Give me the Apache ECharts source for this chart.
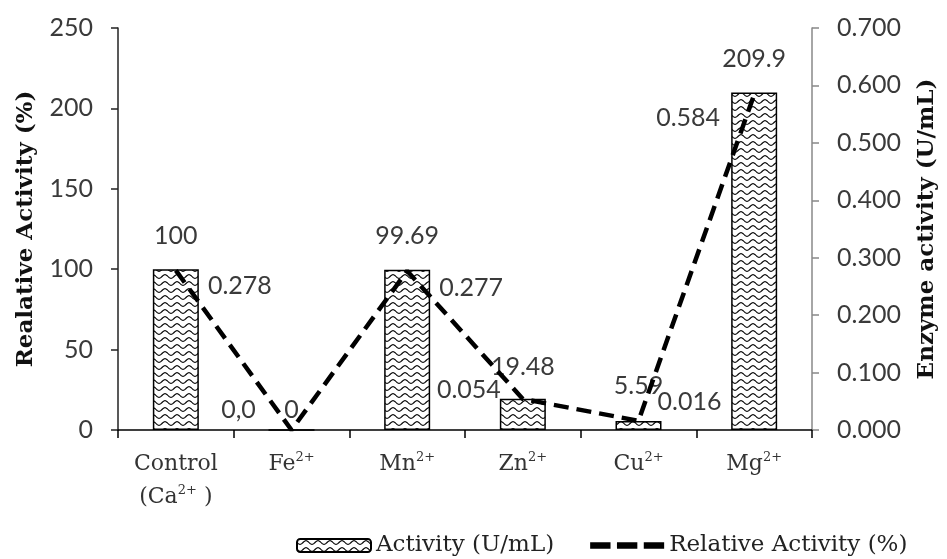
<!DOCTYPE html>
<html>
<head>
<meta charset="utf-8">
<script src="https://cdn.jsdelivr.net/npm/echarts@6/dist/echarts.min.js"></script>
<style>html,body{margin:0;padding:0;background:#fff}#c{width:947px;height:559px}</style>
</head>
<body>
<div id="c"></div>
<script>
const categories = ['Control\n(Ca{sup|2+} )', 'Fe{sup|2+}', 'Mn{sup|2+}', 'Zn{sup|2+}', 'Cu{sup|2+}', 'Mg{sup|2+}'];
const barValues = [100, 0, 99.69, 19.48, 5.59, 209.9];
const barLabels = ['100', '0', '99.69', '19.48', '5.59', '209.9'];
const lineValues = [0.278, 0, 0.277, 0.054, 0.016, 0.584];
const lineLabels = ['0.278', '0,0', '0.277', '0.054', '0.016', '0.584'];
const leftTicks = [0, 50, 100, 150, 200, 250];
const rightTicks = [0, 0.1, 0.2, 0.3, 0.4, 0.5, 0.6, 0.7];

// wavy pattern tile
const tile = document.createElement('canvas');
tile.width = 12; tile.height = 7;
const tc = tile.getContext('2d');
tc.fillStyle = '#fff'; tc.fillRect(0, 0, 12, 7);
tc.strokeStyle = '#000'; tc.lineWidth = 1.2;
tc.beginPath();
for (let x = 0; x <= 12; x += 0.5) {
  const y = 3.5 + 1.8 * Math.sin(x / 12 * Math.PI * 2);
  if (x === 0) tc.moveTo(x, y); else tc.lineTo(x, y);
}
tc.stroke();
const pattern = { image: tile, repeat: 'repeat' };

const lineOffsets = [[64, 16], [-53, -20], [64, 17], [-54, -9], [51, -19], [-66, 23]];
const barDist = [21, 7, 21, 19, 23, 21];

const tickFont = { fontFamily: 'Lato', fontSize: 25, color: '#3a3a3a' };
const serif = 'DejaVu Serif';

const chart = echarts.init(document.getElementById('c'));
chart.setOption({
  animation: false,
  backgroundColor: '#fff',
  grid: { left: 118, right: 132, top: 28, bottom: 129, containLabel: false },
  legend: {
    top: 529, left: 291, width: 656, itemGap: 36, itemWidth: 74, itemHeight: 13,
    textStyle: { fontFamily: serif, fontSize: 23, color: '#222' },
    data: [
      { name: 'Activity (U/mL)' },
      { name: 'Relative Activity (%)', icon: 'path://M0,0h19v6h-19z M25,0h19v6h-19z M50,0h19v6h-19z', itemStyle: { color: '#000' } }
    ]
  },
  xAxis: {
    type: 'category', data: categories, boundaryGap: true,
    axisLine: { lineStyle: { color: '#000', width: 1.5 } },
    axisTick: { show: true, length: 8, lineStyle: { color: '#000', width: 1.5 } },
    axisLabel: {
      margin: 18, interval: 0,
      fontFamily: serif, fontSize: 22, color: '#333', lineHeight: 33,
      rich: { sup: { fontFamily: serif, fontSize: 13, verticalAlign: 'middle', padding: [0, 0, 14, 0], color: '#333' } }
    }
  },
  yAxis: [
    {
      type: 'value', min: 0, max: 250, interval: 50,
      name: 'Realative Activity (%)', nameLocation: 'middle', nameGap: 80, nameRotate: 90,
      nameTextStyle: { fontFamily: serif, fontSize: 23, fontWeight: 'bold', color: '#111' },
      axisLine: { show: true, lineStyle: { color: '#222', width: 1.5 } },
      axisTick: { show: true, length: 7, lineStyle: { color: '#222', width: 1.5 } },
      splitLine: { show: false },
      axisLabel: Object.assign({ margin: 25 }, tickFont)
    },
    {
      type: 'value', min: 0, max: 0.7, interval: 0.1, position: 'right',
      name: 'Enzyme activity (U/mL)', nameLocation: 'middle', nameGap: 104, nameRotate: 90,
      nameTextStyle: { fontFamily: serif, fontSize: 23, fontWeight: 'bold', color: '#111' },
      axisLine: { show: true, lineStyle: { color: '#888', width: 1.5 } },
      axisTick: { show: true, length: 7, lineStyle: { color: '#888', width: 1.5 } },
      splitLine: { show: false },
      axisLabel: Object.assign({ margin: 25, formatter: v => v.toFixed(3) }, tickFont)
    }
  ],
  series: [
    {
      name: 'Activity (U/mL)', type: 'bar', yAxisIndex: 0, barWidth: 46,
      itemStyle: { color: pattern, borderColor: '#000', borderWidth: 1.5 },
      data: barValues.map((v, i) => ({
        value: v,
        label: { show: true, position: 'top', distance: barDist[i], formatter: barLabels[i],
          fontFamily: 'Lato', fontSize: 25, color: '#3a3a3a' }
      }))
    },
    {
      name: 'Relative Activity (%)', type: 'line', yAxisIndex: 1,
      symbol: 'circle', symbolSize: 1, showSymbol: true,
      itemStyle: { color: 'rgba(0,0,0,0)' },
      lineStyle: { color: '#000', width: 4.5, type: [15, 8] },
      data: lineValues.map((v, i) => ({
        value: v,
        label: { show: true, position: 'inside', offset: lineOffsets[i], formatter: lineLabels[i],
          fontFamily: 'Lato', fontSize: 25, color: '#3a3a3a' }
      }))
    }
  ]
});
</script>
</body>
</html>
